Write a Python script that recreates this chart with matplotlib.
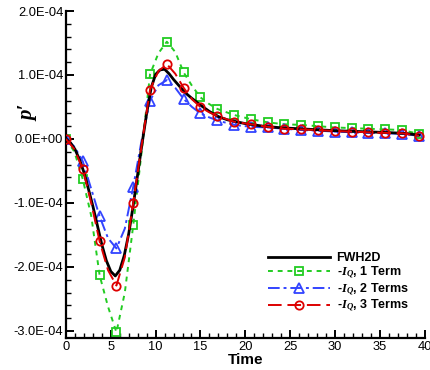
import matplotlib
matplotlib.use("Agg")
import matplotlib.pyplot as plt
from matplotlib.ticker import MultipleLocator, FuncFormatter

plt.rcParams['font.family'] = ['Liberation Sans', 'DejaVu Sans']
plt.rcParams['mathtext.fontset'] = 'custom'
plt.rcParams['mathtext.it'] = 'Liberation Serif:italic'
plt.rcParams['mathtext.bfit'] = 'Liberation Serif:italic:bold'
plt.rcParams['mathtext.rm'] = 'Liberation Sans'

# ---- data (values in units of 1e-4) ----
t_fwh = [0, 0.5, 1.0, 1.5, 2.0, 2.5, 3.0, 3.5, 4.0, 4.5, 5.0, 5.5, 6.0, 6.5, 7.0,
         7.5, 8.0, 8.5, 9.0, 9.5, 10.0, 10.5, 11.0, 11.5, 12.0, 12.5, 13.0, 13.5,
         14.0, 15.0, 16.0, 17.0, 18.0, 19.0, 20.0, 22.0, 24.0, 26.0, 28.0, 30.0,
         32.0, 34.0, 36.0, 38.0, 39.4]
p_fwh = [0, -0.06, -0.16, -0.32, -0.52, -0.78, -1.05, -1.35, -1.65, -1.90, -2.07,
         -2.14, -2.05, -1.82, -1.48, -1.04, -0.55, -0.06, 0.40, 0.80, 1.01, 1.08,
         1.09, 1.02, 0.93, 0.85, 0.77, 0.70, 0.64, 0.53, 0.43, 0.35, 0.30, 0.27,
         0.24, 0.20, 0.175, 0.16, 0.145, 0.13, 0.12, 0.11, 0.10, 0.085, 0.06]

t_iq = [0, 0.9375, 1.875, 2.8125, 3.75, 4.6875, 5.625, 6.5625, 7.5, 8.4375, 9.375,
        10.3125, 11.25, 12.1875, 13.125, 14.0625, 15.0, 15.9375, 16.875, 18.75,
        20.625, 22.5, 24.375, 26.25, 28.125, 30.0, 31.875, 33.75, 35.625, 37.5,
        39.375]
p_iq1 = [0, -0.20, -0.63, -1.20, -2.13, -2.62, -3.02, -2.40, -1.35, -0.20, 1.01,
         1.34, 1.52, 1.36, 1.04, 0.83, 0.65, 0.55, 0.47, 0.375, 0.31, 0.26, 0.23,
         0.22, 0.20, 0.18, 0.17, 0.16, 0.15, 0.14, 0.08]
p_iq2 = [0, -0.12, -0.35, -0.78, -1.21, -1.55, -1.71, -1.40, -0.75, -0.02, 0.60,
         0.84, 0.92, 0.80, 0.625, 0.50, 0.40, 0.34, 0.29, 0.22, 0.19, 0.18, 0.16,
         0.14, 0.13, 0.115, 0.105, 0.095, 0.09, 0.08, 0.05]
p_iq3 = [0, -0.16, -0.47, -1.00, -1.60, -2.05, -2.29, -1.85, -1.00, -0.10, 0.77,
         1.06, 1.17, 1.02, 0.80, 0.62, 0.50, 0.42, 0.36, 0.27, 0.23, 0.19, 0.16,
         0.15, 0.14, 0.125, 0.115, 0.105, 0.095, 0.09, 0.05]

labels = ["FWH2D",
          r"-$\mathbfit{I}_{\mathbfit{Q}}$, 1 Term",
          r"-$\mathbfit{I}_{\mathbfit{Q}}$, 2 Terms",
          r"-$\mathbfit{I}_{\mathbfit{Q}}$, 3 Terms"]
scale = 1e-4

# marker indices: every 1.875 time units
mk = [i for i, tv in enumerate(t_iq) if abs(tv / 1.875 - round(tv / 1.875)) < 1e-6]

fig = plt.figure(figsize=(4.3, 3.7), dpi=100)
ax = fig.add_axes([66 / 430, 1 - 338 / 370, 358.5 / 430, 327 / 370])

ax.plot(t_fwh, [v * scale for v in p_fwh], color='black', lw=2.0, label=labels[0], zorder=5)
ax.plot(t_iq, [v * scale for v in p_iq1], color='#22cc22', lw=1.4, ls=(0, (2.5, 2.5)),
        marker='s', ms=5.5, mfc='none', mec='#22cc22', mew=1.3, markevery=mk, label=labels[1])
ax.plot(t_iq, [v * scale for v in p_iq2], color='#3344ff', lw=1.4, ls=(0, (6, 2, 1.5, 2)),
        marker='^', ms=6.5, mfc='none', mec='#3344ff', mew=1.3, markevery=mk, label=labels[2])
ax.plot(t_iq, [v * scale for v in p_iq3], color='#dd0000', lw=1.4, ls=(0, (7, 3)),
        marker='o', ms=6, mfc='none', mec='#dd0000', mew=1.3, markevery=mk, label=labels[3], zorder=6)

ax.set_xlim(0, 40)
ax.set_ylim(-3.11e-4, 2e-4)
ax.spines['top'].set_visible(False)
ax.spines['right'].set_visible(False)
ax.spines['left'].set_linewidth(1.6)
ax.spines['bottom'].set_linewidth(1.6)

ax.xaxis.set_major_locator(MultipleLocator(5))
ax.xaxis.set_minor_locator(MultipleLocator(1))
ax.yaxis.set_major_locator(MultipleLocator(1e-4))
ax.yaxis.set_minor_locator(MultipleLocator(0.2e-4))
ax.yaxis.set_major_formatter(FuncFormatter(lambda v, p: f"{v:.1E}".replace("-0.0", "0.0")))
ax.tick_params(which='major', direction='in', length=6, width=1.4, labelsize=9.3, pad=2)
ax.tick_params(which='minor', direction='in', length=3.5, width=1.0)

ax.set_xlabel("Time", fontsize=11, fontweight='bold', labelpad=0)
ax.set_ylabel("p\u2032", fontsize=15, family='Liberation Serif', fontstyle='italic',
              fontweight='bold')
ax.yaxis.set_label_coords(-0.078, 0.69)

leg = ax.legend(loc='upper left', bbox_to_anchor=(0.563, 0.262), frameon=False,
                handlelength=5.0, handletextpad=0.5, labelspacing=0.02,
                borderpad=0, borderaxespad=0, prop={'weight': 'bold', 'size': 9})

fig.savefig("out.png", dpi=100)
